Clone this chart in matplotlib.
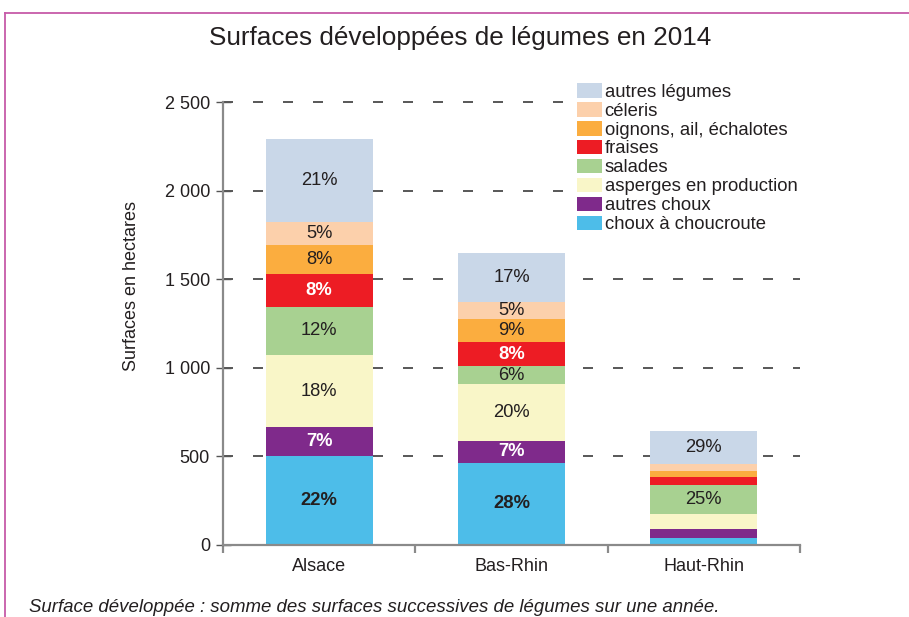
import matplotlib
matplotlib.use("Agg")
import matplotlib.pyplot as plt
from matplotlib.lines import Line2D
import numpy as np

plt.rcParams['font.family'] = ['Liberation Sans', 'DejaVu Sans']
plt.rcParams['lines.scale_dashes'] = False

regions = ["Alsace", "Bas-Rhin", "Haut-Rhin"]

series_names = ["choux à choucroute", "autres choux", "asperges en production",
                "salades", "fraises", "oignons, ail, échalotes", "céleris",
                "autres légumes"]

choux_choucroute = [501, 462, 34]
autres_choux = [165, 124, 56]
asperges = [404, 321, 84]
salades = [276, 103, 162]
fraises = [186, 133, 47]
oignons = [163, 135, 34]
celeris = [130, 92, 39]
autres_legumes = [469, 280, 186]

pct_choux_choucroute = ["22%", "28%", ""]
pct_autres_choux = ["7%", "7%", ""]
pct_asperges = ["18%", "20%", ""]
pct_salades = ["12%", "6%", "25%"]
pct_fraises = ["8%", "8%", ""]
pct_oignons = ["8%", "9%", ""]
pct_celeris = ["5%", "5%", ""]
pct_autres_legumes = ["21%", "17%", "29%"]

yticks = [0, 500, 1000, 1500, 2000, 2500]
ytick_labels = ["0", "500", "1 000", "1 500", "2 000", "2 500"]

values = [choux_choucroute, autres_choux, asperges, salades, fraises, oignons,
          celeris, autres_legumes]
pcts = [pct_choux_choucroute, pct_autres_choux, pct_asperges, pct_salades,
        pct_fraises, pct_oignons, pct_celeris, pct_autres_legumes]
colors = ["#4dbde9", "#7f2a8b", "#f9f6c8", "#a8d191", "#ed1c24", "#fbad3f",
          "#fcd0ab", "#c9d7e8"]
dark = "#231f20"
label_styles = [("bold", dark), ("bold", "white"), ("normal", dark),
                ("normal", dark), ("bold", "white"), ("normal", dark),
                ("normal", dark), ("normal", dark)]

W, H = 909, 617
fig = plt.figure(figsize=(W / 100, H / 100), dpi=100)
ax = fig.add_axes([223 / W, 1 - 544.5 / H, (800 - 223) / W, (544.5 - 102.5) / H])

x = np.arange(len(regions))
bottoms = np.zeros(len(regions))
handles = []
for vals, name, col, pl, (fw, fc) in zip(values, series_names, colors, pcts, label_styles):
    vals = np.array(vals, dtype=float)
    b = ax.bar(x, vals, bottom=bottoms, width=0.556, color=col, label=name,
               zorder=2, linewidth=0)
    handles.append(b)
    for xi, v, bt, t in zip(x, vals, bottoms, pl):
        if t:
            ax.text(xi, bt + v / 2, t, ha="center", va="center", fontsize=13.2,
                    fontweight=fw, color=fc, zorder=3)
    bottoms += vals

ax.set_xlim(-0.5, 2.5)
ax.set_ylim(0, 2500)

# gridlines
for yv in yticks[1:]:
    ax.axhline(yv, color="#2a2a2a", lw=1.1, linestyle=(0, (7.2, 14.4)),
               zorder=1, clip_on=False)

for s in ["top", "right"]:
    ax.spines[s].set_visible(False)
for s in ["left", "bottom"]:
    ax.spines[s].set_color("#8a8a8a")
    ax.spines[s].set_linewidth(1.6)

ax.set_yticks(yticks)
ax.set_yticklabels(ytick_labels)
ax.tick_params(axis="y", direction="inout", length=10.8, width=1.0,
               color="#555555", labelsize=13, labelcolor=dark, pad=4)

ax.set_xticks([-0.5, 0.5, 1.5, 2.5])
ax.set_xticklabels([])
ax.set_xticks(x, minor=True)
ax.set_xticklabels(regions, minor=True)
ax.tick_params(axis="x", which="major", direction="out", length=5.8, width=1.6,
               color="#8a8a8a")
ax.tick_params(axis="x", which="minor", length=0, labelsize=13,
               labelcolor=dark, pad=10)

ax.set_ylabel("Surfaces en hectares", fontsize=13, color=dark)
ax.yaxis.set_label_coords((140 - 223) / (800 - 223), (544.5 - 286) / (544.5 - 102.5))

leg = fig.legend(handles[::-1], series_names[::-1], loc="upper left",
                 bbox_to_anchor=(575 / W, 1 - 81 / H), fontsize=13.3,
                 frameon=True, fancybox=False, edgecolor="white",
                 facecolor="white", framealpha=1, borderpad=0.1,
                 borderaxespad=0, handlelength=1.36, handleheight=0.85,
                 handletextpad=0.15, labelspacing=0.065)
for t in leg.get_texts():
    t.set_color(dark)

fig.text(460 / W, 1 - 38 / H, "Surfaces développées de légumes en 2014",
         ha="center", va="center", fontsize=18.8, color=dark)

fig.text(29 / W, 1 - 607 / H,
         "Surface développée : somme des surfaces successives de légumes sur une année.",
         ha="left", va="center", fontsize=13.4, style="italic", color=dark)

border = "#c65aa8"
fig.add_artist(Line2D([5.3 / W, 5.3 / W], [0, 1 - 12.8 / H], color=border,
                      lw=1.3, transform=fig.transFigure))
fig.add_artist(Line2D([5.3 / W, 1], [1 - 12.8 / H, 1 - 12.8 / H], color=border,
                      lw=1.3, transform=fig.transFigure))

fig.savefig("out.png", dpi=100)
